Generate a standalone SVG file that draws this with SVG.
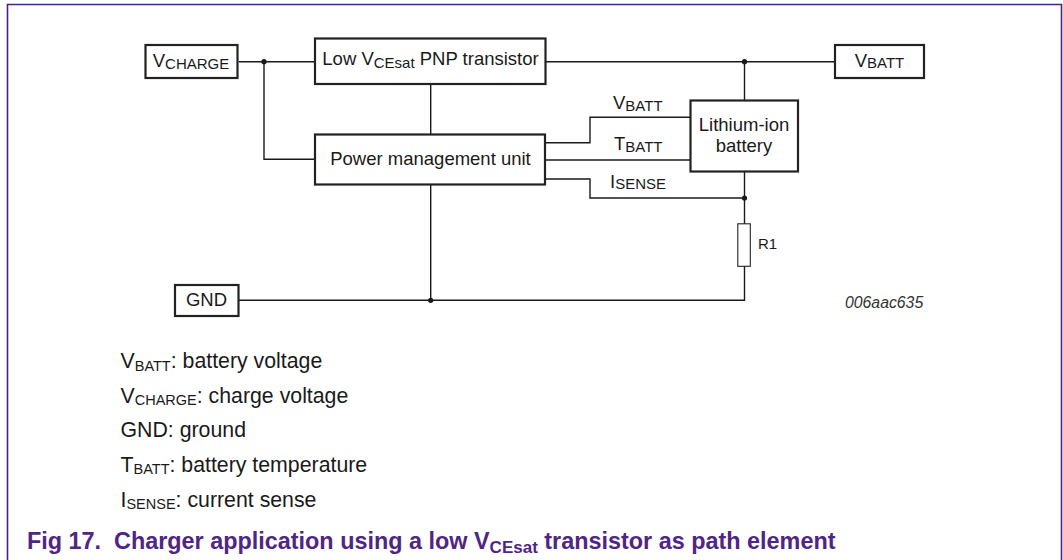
<svg xmlns="http://www.w3.org/2000/svg" width="1063" height="560" viewBox="0 0 1063 560">
<style>
.box{fill:#fff;stroke:#222;stroke-width:2.2}
.res{fill:#fff;stroke:#222;stroke-width:1.1}
.w{fill:none;stroke:#1a1a1a;stroke-width:1.4}
.dot{fill:#1a1a1a}
.t{font-family:"Liberation Sans",Arial,sans-serif;font-size:18.5px;fill:#1a1a1a}
.s{font-size:15px}
.lg{font-family:"Liberation Sans",Arial,sans-serif;font-size:21.3px;fill:#1a1a1a}
.ls{font-size:14.5px}
.cap{font-family:"Liberation Sans",Arial,sans-serif;font-size:23.4px;font-weight:bold;fill:#4f2683}
.cs{font-size:17px}
</style>
<rect width="1063" height="560" fill="#fff"/>
<path d="M7.5,560 V4.5 H1061.5 V560" fill="none" stroke="#4b2283" stroke-width="1.6"/>

<g id="connectors">
<path class="w" d="M238.7,61.7 H315"/>
<path class="w" d="M264,61.7 V159.3 H315"/>
<path class="w" d="M546,61.7 H835"/>
<path class="w" d="M744.5,61.7 V100"/>
<path class="w" d="M430.7,84 V134"/>
<path class="w" d="M546,142.7 H590 V117.3 H690"/>
<path class="w" d="M546,160 H690"/>
<path class="w" d="M546,179 H590 V198 H744.5"/>
<path class="w" d="M744.5,172 V224"/>
<path class="w" d="M744.5,266 V300.3 H239"/>
<path class="w" d="M430.7,185 V300.3"/>
<circle class="dot" cx="264" cy="61.7" r="2.6"/>
<circle class="dot" cx="744.5" cy="61.7" r="2.6"/>
<circle class="dot" cx="744.5" cy="198" r="2.6"/>
<circle class="dot" cx="430.7" cy="300.3" r="2.6"/>
</g>

<g id="vcharge">
<rect class="box" x="145.5" y="45" width="92" height="33"/>
<text class="t" x="191" y="67" text-anchor="middle">V<tspan class="s" dy="1.5">CHARGE</tspan></text>
</g>

<g id="transistor">
<rect class="box" x="315" y="38.5" width="230.5" height="45.5"/>
<text class="t" x="430.5" y="65" text-anchor="middle">Low V<tspan class="s" dy="2.5">CEsat</tspan><tspan dy="-2.5"> PNP transistor</tspan></text>
</g>

<g id="pmu">
<rect class="box" x="315" y="134.5" width="230" height="50"/>
<text class="t" x="430.5" y="165" text-anchor="middle">Power management unit</text>
</g>

<g id="battery">
<rect class="box" x="690.5" y="100.5" width="107.5" height="71"/>
<text class="t" x="744" y="130.5" text-anchor="middle">Lithium-ion</text>
<text class="t" x="744" y="151.5" text-anchor="middle">battery</text>
</g>

<g id="vbatt">
<rect class="box" x="835" y="45" width="89" height="33"/>
<text class="t" x="879.5" y="66.5" text-anchor="middle">V<tspan class="s" dy="1.5">BATT</tspan></text>
</g>

<g id="gnd">
<rect class="box" x="175" y="285" width="63.5" height="31"/>
<text class="t" x="206.5" y="306" text-anchor="middle">GND</text>
</g>

<g id="r1">
<rect class="res" x="737.8" y="223.8" width="12.5" height="42.5"/>
<text class="t" x="758" y="249" style="font-size:15px">R1</text>
</g>

<g id="labels">
<text class="t" x="613" y="109">V<tspan class="s" dy="1.5">BATT</tspan></text>
<text class="t" x="614" y="150">T<tspan class="s" dy="1.5">BATT</tspan></text>
<text class="t" x="610" y="187.5">I<tspan class="s" dy="1.5">SENSE</tspan></text>
<text class="t" x="845" y="308" style="font-size:15.8px;font-style:italic;fill:#333">006aac635</text>
</g>

<g id="legend">
<text class="lg" x="120.5" y="368.3">V<tspan class="ls" dy="2.4">BATT</tspan><tspan dy="-2.4">: battery voltage</tspan></text>
<text class="lg" x="120.5" y="402.7">V<tspan class="ls" dy="2.4">CHARGE</tspan><tspan dy="-2.4">: charge voltage</tspan></text>
<text class="lg" x="120.5" y="437.3">GND: ground</text>
<text class="lg" x="120.5" y="471.7">T<tspan class="ls" dy="2.4">BATT</tspan><tspan dy="-2.4">: battery temperature</tspan></text>
<text class="lg" x="120.5" y="506.5">I<tspan class="ls" dy="2.4">SENSE</tspan><tspan dy="-2.4">: current sense</tspan></text>
</g>

<g id="caption">
<text class="cap" x="27" y="548.5">Fig 17.<tspan x="114">Charger application using a low V</tspan><tspan class="cs" dy="4">CEsat</tspan><tspan dy="-4"> transistor as path element</tspan></text>
</g>
</svg>
